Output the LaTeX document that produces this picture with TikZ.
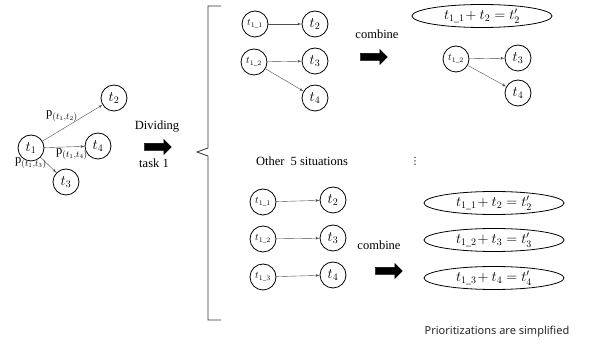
\documentclass[tikz,border=0pt]{standalone}
\usepackage{amsmath}
\usepackage{fontspec}
\setmainfont{Liberation Serif}
\newfontfamily\notefont{Noto Sans}
\newfontfamily\symfont{DejaVu Sans}
\usetikzlibrary{arrows,shapes.geometric,shapes.arrows}

\begin{document}
\begin{tikzpicture}[x=1pt,y=-1pt]
  \tikzset{
    task/.style={draw, circle, thick, minimum size=26pt, inner sep=0pt, font=\Large},
    subtask/.style={draw, circle, thick, minimum size=26pt, inner sep=0pt, font=\normalsize},
    merged/.style={draw, ellipse, thick, minimum width=140pt, minimum height=23pt, inner sep=0pt, font=\Large},
    bigarrow/.style={draw, single arrow, fill=black, minimum height=27pt, minimum width=15pt, single arrow head extend=3pt, inner sep=2.5pt},
    line/.style={draw, gray!60!black, -latex', thin},
    word/.style={font=\fontsize{12.5}{14}\selectfont},
  }
  \useasboundingbox (0,0) rectangle (603,344);

  % original task graph
  \node [task] (t1) at (31,148) {$t_1$};
  \node [task] (t2) at (114,98) {$t_2$};
  \node [task] (t4) at (98,146) {$t_4$};
  \node [task] (t3) at (66,182) {$t_3$};
  \path [line] (t1)--(t2);
  \path [line] (t1)--(t4);
  \path [line] (t1)--(t3);
  \node [word] (p12) at (62,116) {p$_{(t_1,t_2)}$};
  \node [word] (p14) at (72,154) {p$_{(t_1,t_4)}$};
  \node [word] (p13) at (31,163) {p$_{(t_1,t_3)}$};

  \node [word] (div) at (157,127) {Dividing};
  \node [bigarrow] (divarrow) at (156,147) {};
  \node [word] (task1) at (154,163) {task 1};

  % bracket
  \draw [thick, gray!40!black] (221,6) -- (208,6) -- (208,148) -- (197,152) -- (208,156) -- (208,320) -- (221,320);

  % first situation
  \node [subtask] (a11) at (255,24) {$t_{1\_1}$};
  \node [task, right of=a11, node distance=60pt] (a2) {$t_2$};
  \node [subtask] (a12) at (254,62) {$t_{1\_2}$};
  \node [task] (a3) at (315,61) {$t_3$};
  \node [task] (a4) at (315,98) {$t_4$};
  \path [line] (a11)--(a2);
  \path [line] (a12)--(a3);
  \path [line] (a12)--(a4);

  \node [word] (comb1) at (377,34) {combine};
  \node [bigarrow] (combarrow1) at (372,57) {};

  \node [merged] (m1) at (482,16) {$t_{1\_1}\!+t_2=t'_2$};
  \node [subtask] (b12) at (456,59) {$t_{1\_2}$};
  \node [task] (b3) at (518,58) {$t_3$};
  \node [task] (b4) at (518,93) {$t_4$};
  \path [line] (b12)--(b3);
  \path [line] (b12)--(b4);

  \node [word] (other) at (302,161) {Other\ \ 5 situations};
  \node [font=\symfont\normalsize] (dots) at (415,161) {⋮};

  % last situation
  \node [subtask] (c11) at (263,202) {$t_{1\_1}$};
  \node [task] (c2) at (333,200) {$t_2$};
  \node [subtask] (c12) at (263,239) {$t_{1\_2}$};
  \node [task] (c3) at (333,238) {$t_3$};
  \node [subtask] (c13) at (263,277) {$t_{1\_3}$};
  \node [task] (c4) at (333,275) {$t_4$};
  \path [line] (c11)--(c2);
  \path [line] (c12)--(c3);
  \path [line] (c13)--(c4);

  \node [word] (comb2) at (379,245) {combine};
  \node [bigarrow] (combarrow2) at (387,271) {};

  \node [merged] (m2) at (494,203) {$t_{1\_1}\!+t_2=t'_2$};
  \node [merged] (m3) at (494,240) {$t_{1\_2}\!+t_3=t'_3$};
  \node [merged] (m4) at (494,278) {$t_{1\_3}\!+t_4=t'_4$};

  \node [font=\notefont\fontsize{11}{13}\selectfont, gray!30!black] (note) at (497,332) {Prioritizations are simplified};
\end{tikzpicture}
\end{document}
